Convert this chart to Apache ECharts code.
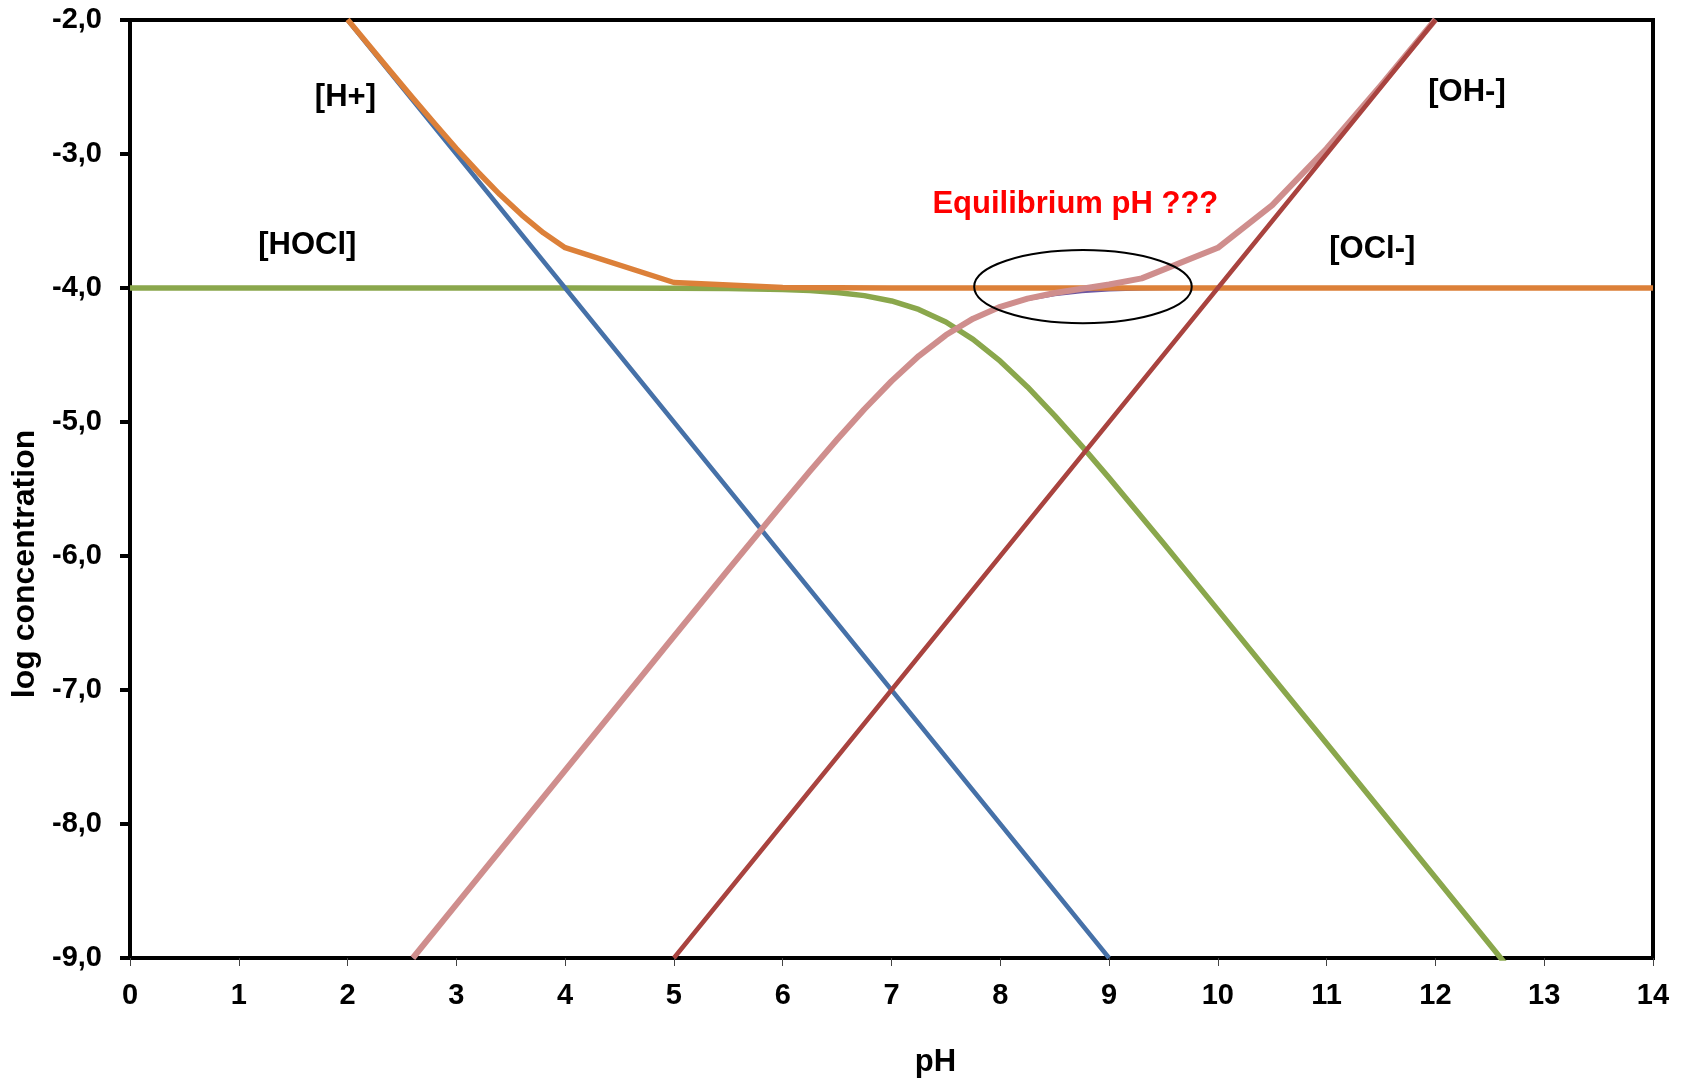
<!DOCTYPE html>
<html>
<head>
<meta charset="utf-8">
<title>HOCl log concentration diagram</title>
<script src="https://cdn.jsdelivr.net/npm/echarts@6/dist/echarts.min.js"></script>
<style>
  html, body { margin: 0; padding: 0; background: #fff; }
  #chart { width: 1684px; height: 1083px; }
</style>
</head>
<body>
<div id="chart"></div>
<script>
// values (C_T = 1e-4 M hypochlorous acid)
const phH = [2, 3, 4, 5, 6, 7, 8, 9]
const logH = [-2, -3, -4, -5, -6, -7, -8, -9]

const phOH = [5, 6, 7, 8, 9, 10, 11, 12]
const logOH = [-9, -8, -7, -6, -5, -4, -3, -2]

const phHOCl = [0, 1, 2, 3, 4, 5, 5.5, 6, 6.25, 6.5, 6.75, 7, 7.25, 7.5, 7.75, 8, 8.25, 8.5, 8.75, 9, 9.5, 10, 10.5, 11, 12, 13]
const logHOCl = [-4.0, -4.0, -4.0, -4.0, -4.0, -4.001, -4.003, -4.011, -4.019, -4.033, -4.057, -4.097, -4.16, -4.254, -4.383, -4.546, -4.738, -4.952, -5.18, -5.417, -5.905, -6.402, -6.901, -7.4, -8.4, -9.4]

const phOCl = [2.6, 3, 4, 5, 5.5, 6, 6.25, 6.5, 6.75, 7, 7.25, 7.5, 7.75, 8, 8.25, 8.5, 8.75, 9, 9.3, 10, 11, 12, 13, 14]
const logOCl = [-9.0, -8.6, -7.6, -6.601, -6.103, -5.611, -5.369, -5.133, -4.907, -4.697, -4.51, -4.354, -4.233, -4.146, -4.088, -4.052, -4.03, -4.017, -4.009, -4.002, -4.0, -4.0, -4.0, -4.0]

// [OCl-] + [OH-]
const phAnion = [2.6, 3, 4, 5, 5.5, 6, 6.25, 6.5, 6.75, 7, 7.25, 7.5, 7.75, 8, 8.25, 8.5, 8.75, 9, 9.3, 10, 10.5, 11, 11.5, 12]
const logAnion = [-9.0, -8.6, -7.6, -6.599, -6.101, -5.609, -5.367, -5.131, -4.905, -4.695, -4.508, -4.351, -4.229, -4.14, -4.079, -4.037, -4.005, -3.974, -3.928, -3.7, -3.381, -2.959, -2.487, -1.996]

// [H+] + C_T
const phCation = [2, 2.2, 2.4, 2.6, 2.8, 3, 3.2, 3.4, 3.6, 3.8, 4, 5, 6, 7, 8, 9, 10, 11, 12, 13, 14]
const logCation = [-1.996, -2.193, -2.389, -2.583, -2.773, -2.959, -3.136, -3.303, -3.454, -3.588, -3.699, -3.959, -3.996, -4.0, -4.0, -4.0, -4.0, -4.0, -4.0, -4.0, -4.0]

const noteText = ['[H+]', '[HOCl]', '[OH-]', '[OCl-]', 'Equilibrium pH ???']
const notePh = [1.98, 1.63, 12.29, 11.42, 8.69]
const noteLog = [-2.58, -3.68, -2.54, -3.71, -3.38]

// ellipse round the equilibrium point (centre and half-axes in pH / log units)
const ringCentre = [8.76, -3.99]
const ringHalf = [1.0, 0.273]

const FONT = '"Liberation Sans", Arial, sans-serif'

function pairs(xs, ys) {
  return xs.map((x, i) => [x, ys[i]])
}

function lineSeries(name, xs, ys, color, width, z) {
  return {
    name,
    type: 'line',
    data: pairs(xs, ys),
    symbol: 'none',
    clip: true,
    silent: true,
    z,
    lineStyle: { color, width, cap: 'butt', join: 'round', opacity: 1 }
  }
}

const chart = echarts.init(document.getElementById('chart'), null, { renderer: 'canvas' })

chart.setOption({
  animation: false,
  backgroundColor: '#fff',
  grid: {
    left: 130, right: 31, top: 20, bottom: 123,
    show: true, borderColor: '#000', borderWidth: 4, backgroundColor: 'transparent'
  },
  xAxis: {
    type: 'value',
    min: 0, max: 14, interval: 1,
    name: 'pH',
    nameLocation: 'middle',
    nameGap: 89,
    nameTextStyle: { fontFamily: FONT, fontWeight: 'bold', fontSize: 31, color: '#000', padding: [0, 0, 0, 88] },
    axisLine: { show: true, onZero: false, lineStyle: { color: '#000', width: 4 } },
    axisTick: { show: true, inside: false, length: 8, lineStyle: { color: '#444', width: 1 } },
    axisLabel: { fontFamily: FONT, fontWeight: 'bold', fontSize: 29, color: '#000', margin: 23 },
    splitLine: { show: false }
  },
  yAxis: {
    type: 'value',
    min: -9, max: -2, interval: 1,
    name: 'log concentration',
    nameLocation: 'middle',
    nameGap: 84,
    nameTextStyle: { fontFamily: FONT, fontWeight: 'bold', fontSize: 32, color: '#000', padding: [0, 150, 0, 0] },
    axisLine: { show: true, onZero: false, lineStyle: { color: '#000', width: 4 } },
    axisTick: { show: true, inside: false, length: 10, lineStyle: { color: '#000', width: 4 } },
    axisLabel: {
      fontFamily: FONT, fontWeight: 'bold', fontSize: 29, color: '#000', margin: 28,
      formatter: v => v.toFixed(1).replace('.', ',')
    },
    splitLine: { show: false }
  },
  series: [
    lineSeries('[HOCl]', phHOCl, logHOCl, '#8AA74C', 5.5, 2),
    lineSeries('[H+]', phH, logH, '#4671A8', 4.5, 3),
    lineSeries('[OCl-]', phOCl, logOCl, '#6E57A0', 2.5, 4),
    lineSeries('[H+] + C', phCation, logCation, '#DC8039', 5.5, 5),
    lineSeries('[OCl-] + [OH-]', phAnion, logAnion, '#CF8E8D', 6, 6),
    lineSeries('[OH-]', phOH, logOH, '#A9433F', 4.5, 7),
    {
      name: 'notes',
      type: 'scatter',
      silent: true,
      symbolSize: 0,
      z: 10,
      itemStyle: { opacity: 1 },
      data: notePh.map((x, i) => ({
        value: [x, noteLog[i]],
        label: { color: i === 4 ? '#FF0000' : '#000000' }
      })),
      label: {
        show: true,
        position: [0, 0],
        align: 'center',
        verticalAlign: 'middle',
        fontFamily: FONT,
        fontWeight: 'bold',
        fontSize: 31,
        opacity: 1,
        formatter: p => noteText[p.dataIndex]
      }
    }
  ]
})

const c = chart.convertToPixel({ gridIndex: 0 }, ringCentre)
const edge = chart.convertToPixel({ gridIndex: 0 }, [ringCentre[0] + ringHalf[0], ringCentre[1] - ringHalf[1]])

chart.setOption({
  graphic: [{
    type: 'ellipse',
    silent: true,
    z: 100,
    shape: { cx: c[0], cy: c[1], rx: edge[0] - c[0], ry: edge[1] - c[1] },
    style: { fill: 'none', stroke: '#000', lineWidth: 2 }
  }]
})
</script>
</body>
</html>
